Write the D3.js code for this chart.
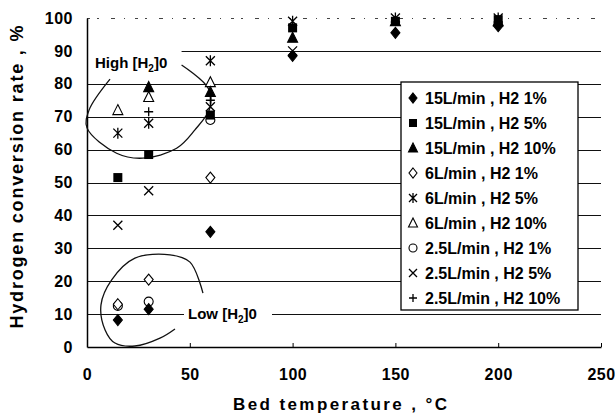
<!DOCTYPE html>
<html>
<head>
<meta charset="utf-8">
<script src="https://cdn.jsdelivr.net/npm/d3@7/dist/d3.min.js"></script>
<style>
  body { margin: 0; background: #fff; }
  text { font-family: "Liberation Sans", Arial, sans-serif; font-weight: bold; fill: #000; }
</style>
</head>
<body>
<div id="chart"></div>
<script>
// bed temperatures (°C) at which the runs were made
var temps = [15, 30, 60, 100, 150, 200];

// conversion rate (%) per run, null where there is no point
var r15_1  = [8.2, 11.5, 35, 88.5, 95.5, 97.5];
var r15_5  = [51.5, 58.5, 70.5, 97, 99, 99.5];
var r15_10 = [null, 79, 77.5, 94, 99, 99];
var r6_1   = [13, 20.5, 51.5, null, null, null];
var r6_5   = [65, 68, 87, 99, 100, 100];
var r6_10  = [72, 76, 80.5, null, null, null];
var r25_1  = [12.5, 13.8, 69, null, null, null];
var r25_5  = [37, 47.5, 73, 90, null, null];
var r25_10 = [null, 71.5, 75, null, null, null];

var seriesNames = ["15L/min , H2 1%", "15L/min , H2 5%", "15L/min , H2 10%",
                   "6L/min , H2 1%", "6L/min , H2 5%", "6L/min , H2 10%",
                   "2.5L/min , H2 1%", "2.5L/min , H2 5%", "2.5L/min , H2 10%"];
var seriesValues = [r15_1, r15_5, r15_10, r6_1, r6_5, r6_10, r25_1, r25_5, r25_10];
var seriesMarks = ["diamondF", "squareF", "triangleF", "diamond", "asterisk",
                   "triangle", "circle", "cross", "plus"];

var xTicks = [0, 50, 100, 150, 200, 250];
var yTicks = [0, 10, 20, 30, 40, 50, 60, 70, 80, 90, 100];

// hand drawn loops of the annotations, in data units (temperature, rate)
var highLoop = [[46, 85.7], [59, 78.6], [59.8, 72.6], [52.5, 66], [43.6, 60.4], [27.2, 57.4],
                [14.4, 58.9], [0, 66.6], [1, 72], [11.2, 81.4]];
var lowLoop = [[56.4, 16.4], [50.1, 25.8], [40.4, 28], [23.3, 27], [12, 20.4], [6.8, 12.8],
               [8.8, 5.2], [13.6, 1.2], [23.3, 0.3], [35.5, 2.7], [42.8, 5.5]];

var width = 615, height = 414;
var plotLeft = 87, plotRight = 601, plotTop = 18, plotBottom = 347;

var svg = d3.select("#chart").append("svg")
    .attr("width", width)
    .attr("height", height);

var x = d3.scaleLinear().domain([0, 250]).range([plotLeft, plotRight]);
var y = d3.scaleLinear().domain([0, 100]).range([plotBottom, plotTop]);

/* Gridlines */
svg.append("g").selectAll("line")
    .data(yTicks.filter(function(d){ return d > 0 && d < 100; }))
    .enter().append("line")
    .attr("x1", function(d){ return d == 90 ? x(46) : x(0); })
    .attr("x2", x(250))
    .attr("y1", function(d){ return Math.round(y(d)) + 0.5; })
    .attr("y2", function(d){ return Math.round(y(d)) + 0.5; })
    .attr("stroke", "#111")
    .attr("stroke-width", 1.2);
// the top edge comes out broken in the scan
svg.append("line")
    .attr("x1", x(0)).attr("x2", x(250))
    .attr("y1", y(100) + 0.5).attr("y2", y(100) + 0.5)
    .attr("stroke", "#444")
    .attr("stroke-width", 1)
    .attr("stroke-dasharray", "3,7,2,12,4,9,1,10");

/* Axes */
var xAxis = svg.append("g")
    .attr("transform", "translate(0," + plotBottom + ")")
    .call(d3.axisBottom(x).tickValues(xTicks).tickSizeInner(-4).tickSizeOuter(0).tickPadding(22));
xAxis.select(".domain").attr("stroke", "#000").attr("stroke-width", 1.5);
xAxis.selectAll("text").attr("font-size", 16).attr("letter-spacing", 0.5).attr("font-family", null);

var yAxis = svg.append("g")
    .attr("transform", "translate(" + plotLeft + ",0)")
    .call(d3.axisLeft(y).tickValues(yTicks).tickSize(0).tickPadding(14));
yAxis.select(".domain").attr("stroke", "#000").attr("stroke-width", 1.5);
yAxis.selectAll("text").attr("font-size", 16).attr("letter-spacing", 0.5).attr("font-family", null);

svg.append("text")
    .attr("x", 340)
    .attr("y", 410)
    .attr("text-anchor", "middle")
    .attr("font-size", 17)
    .attr("textLength", 214)
    .attr("lengthAdjust", "spacing")
    .text("Bed temperature ,  \u00b0C");

svg.append("text")
    .attr("transform", "translate(23,177) rotate(-90)")
    .attr("text-anchor", "middle")
    .attr("font-size", 18)
    .attr("textLength", 303)
    .attr("lengthAdjust", "spacing")
    .text("Hydrogen conversion rate , %");

/* Markers */
function marker(sel, kind, s){
    var h = s / 2;
    if(kind == "diamondF" || kind == "diamond"){
        sel.append("path")
            .attr("d", "M0," + (-h - 1) + "L" + h + ",0L0," + (h + 1) + "L" + (-h) + ",0Z")
            .attr("fill", kind == "diamondF" ? "#000" : "#fff")
            .attr("stroke", "#000").attr("stroke-width", 1.1);
    } else if(kind == "squareF"){
        sel.append("rect")
            .attr("x", -h).attr("y", -h).attr("width", s).attr("height", s)
            .attr("fill", "#000");
    } else if(kind == "triangleF" || kind == "triangle"){
        sel.append("path")
            .attr("d", "M0," + (-h - 1) + "L" + (h + 0.5) + "," + (h) + "L" + (-h - 0.5) + "," + (h) + "Z")
            .attr("fill", kind == "triangleF" ? "#000" : "#fff")
            .attr("stroke", "#000").attr("stroke-width", 1.1);
    } else if(kind == "circle"){
        sel.append("circle")
            .attr("r", h).attr("fill", "#fff")
            .attr("stroke", "#000").attr("stroke-width", 1.1);
    } else if(kind == "cross" || kind == "asterisk"){
        var p = "M" + (-h) + "," + (-h) + "L" + h + "," + h + "M" + h + "," + (-h) + "L" + (-h) + "," + h;
        if(kind == "asterisk") p += "M0," + (-h - 1) + "L0," + (h + 1);
        sel.append("path").attr("d", p)
            .attr("fill", "none").attr("stroke", "#000").attr("stroke-width", 1.3);
    } else if(kind == "plus"){
        sel.append("path")
            .attr("d", "M" + (-h) + ",0L" + h + ",0M0," + (-h) + "L0," + h)
            .attr("fill", "none").attr("stroke", "#000").attr("stroke-width", 1.3);
    }
}

/* Annotation loops */
var loopLine = d3.line()
    .x(function(d){ return x(d[0]); })
    .y(function(d){ return y(d[1]); })
    .curve(d3.curveCatmullRom);
svg.append("path")
    .attr("d", loopLine(highLoop))
    .attr("fill", "none").attr("stroke", "#111").attr("stroke-width", 1.3);
svg.append("path")
    .attr("d", loopLine(lowLoop))
    .attr("fill", "none").attr("stroke", "#111").attr("stroke-width", 1.3);

// points, drawn last series first so the 15L ones sit on top
seriesValues.slice().reverse().forEach(function(vals, ri){
    var i = seriesValues.length - 1 - ri;
    var pts = temps.map(function(t, j){ return {t: t, v: vals[j]}; })
        .filter(function(d){ return d.v != null; });
    var g = svg.append("g").selectAll("g")
        .data(pts)
        .enter().append("g")
        .attr("transform", function(d){ return "translate(" + x(d.t) + "," + y(d.v) + ")"; });
    g.each(function(){ marker(d3.select(this), seriesMarks[i], 9); });
});

/* Annotation labels */
function subLabel(px, py, pre, post, bg){
    if(bg){
        svg.append("rect")
            .attr("x", px - 4).attr("y", py - 13)
            .attr("width", 88).attr("height", 19)
            .attr("fill", "#fff");
    }
    var t = svg.append("text")
        .attr("x", px).attr("y", py)
        .attr("font-size", 15);
    t.append("tspan").text(pre);
    t.append("tspan").attr("font-size", 10).attr("dy", 4).text("2");
    t.append("tspan").attr("dy", -4).text(post);
}
subLabel(95, 68, "High [H", "]0", false);
subLabel(188, 319, "Low [H", "]0", true);

/* Legend */
var legend = svg.append("g");
legend.append("rect")
    .attr("x", 401).attr("y", 82)
    .attr("width", 177).attr("height", 228)
    .attr("fill", "#fff")
    .attr("stroke", "#000")
    .attr("stroke-width", 1.3);
seriesNames.forEach(function(name, i){
    var row = legend.append("g")
        .attr("transform", "translate(0," + (98 + i * 25) + ")");
    var m = row.append("g").attr("transform", "translate(413,0)");
    marker(m, seriesMarks[i], 8);
    row.append("text")
        .attr("x", 425)
        .attr("y", 6)
        .attr("font-size", 16)
        .text(name);
});
</script>
</body>
</html>
